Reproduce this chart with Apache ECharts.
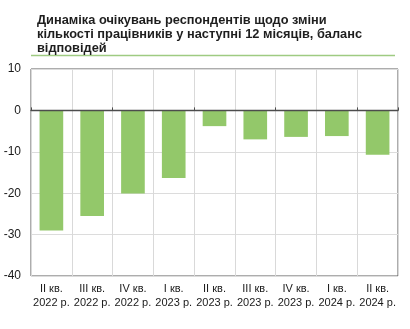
<!DOCTYPE html>
<html>
<head>
<meta charset="utf-8">
<script src="https://cdn.jsdelivr.net/npm/echarts@6/dist/echarts.min.js"></script>
<style>
  html, body { margin: 0; padding: 0; background: #fff; }
  #chart { width: 410px; height: 329px; }
</style>
</head>
<body>
<div id="chart"></div>
<script>
// Quarterly balance of respondents' expectations on staff numbers
const quarters = ['II кв.', 'III кв.', 'IV кв.', 'I кв.', 'II кв.', 'III кв.', 'IV кв.', 'I кв.', 'II кв.'];
const years = ['2022 р.', '2022 р.', '2022 р.', '2023 р.', '2023 р.', '2023 р.', '2023 р.', '2024 р.', '2024 р.'];
const balance = [-29.0, -25.5, -20.1, -16.3, -3.8, -7.0, -6.4, -6.2, -10.7];
const yTicks = { min: -40, max: 10, step: 10 };
const titleText = 'Динаміка очікувань респондентів щодо зміни\nкількості працівників у наступні 12 місяців, баланс\nвідповідей';

const categories = quarters.map((q, i) => q + '\n' + years[i]);

const chart = echarts.init(document.getElementById('chart'), null, { renderer: 'canvas' });

chart.setOption({
  animation: false,
  textStyle: { fontFamily: 'Liberation Sans, Arial, sans-serif' },
  title: {
    text: titleText,
    left: 37,
    top: 14,
    padding: 0,
    textStyle: {
      fontFamily: 'Liberation Sans, Arial, sans-serif',
      fontSize: 12.8,
      fontWeight: 'bold',
      color: '#1e1e1e',
      lineHeight: 13.6
    }
  },
  graphic: [{
    type: 'line',
    shape: { x1: 31, y1: 55.5, x2: 395, y2: 55.5 },
    style: { stroke: '#9fcb82', lineWidth: 1.5 },
    silent: true
  }],
  grid: {
    left: 31, right: 12, top: 69, bottom: 53,
    show: true,
    borderColor: '#5a5a5a',
    borderWidth: 1,
    backgroundColor: 'transparent'
  },
  xAxis: [{
    type: 'category',
    data: categories,
    position: 'bottom',
    axisLine: { show: false, onZero: false },
    axisTick: { show: false },
    splitLine: { show: true, lineStyle: { color: '#d9d9d9', width: 1 } },
    axisLabel: {
      interval: 0,
      margin: 6,
      fontSize: 11,
      lineHeight: 14,
      color: '#1a1a1a',
      fontFamily: 'Liberation Sans, Arial, sans-serif'
    }
  }, {
    // zero reference line with boundary ticks
    type: 'category',
    data: categories,
    position: 'top',
    z: 5,
    axisLine: { show: true, onZero: true, lineStyle: { color: '#4d4d4d', width: 1.3 } },
    axisTick: { show: true, inside: false, length: 3, lineStyle: { color: '#4d4d4d' } },
    axisLabel: { show: false },
    splitLine: { show: false }
  }],
  yAxis: {
    type: 'value',
    min: yTicks.min,
    max: yTicks.max,
    interval: yTicks.step,
    axisLine: { show: false },
    axisTick: { show: false },
    splitLine: { show: true, lineStyle: { color: '#dcdcdc', width: 1 } },
    axisLabel: {
      margin: 10,
      fontSize: 12,
      color: '#1a1a1a',
      fontFamily: 'Liberation Sans, Arial, sans-serif'
    }
  },
  series: [{
    type: 'bar',
    xAxisIndex: 0,
    data: balance,
    barCategoryGap: '42%',
    itemStyle: { color: '#93c86a' }
  }]
});
</script>
</body>
</html>
